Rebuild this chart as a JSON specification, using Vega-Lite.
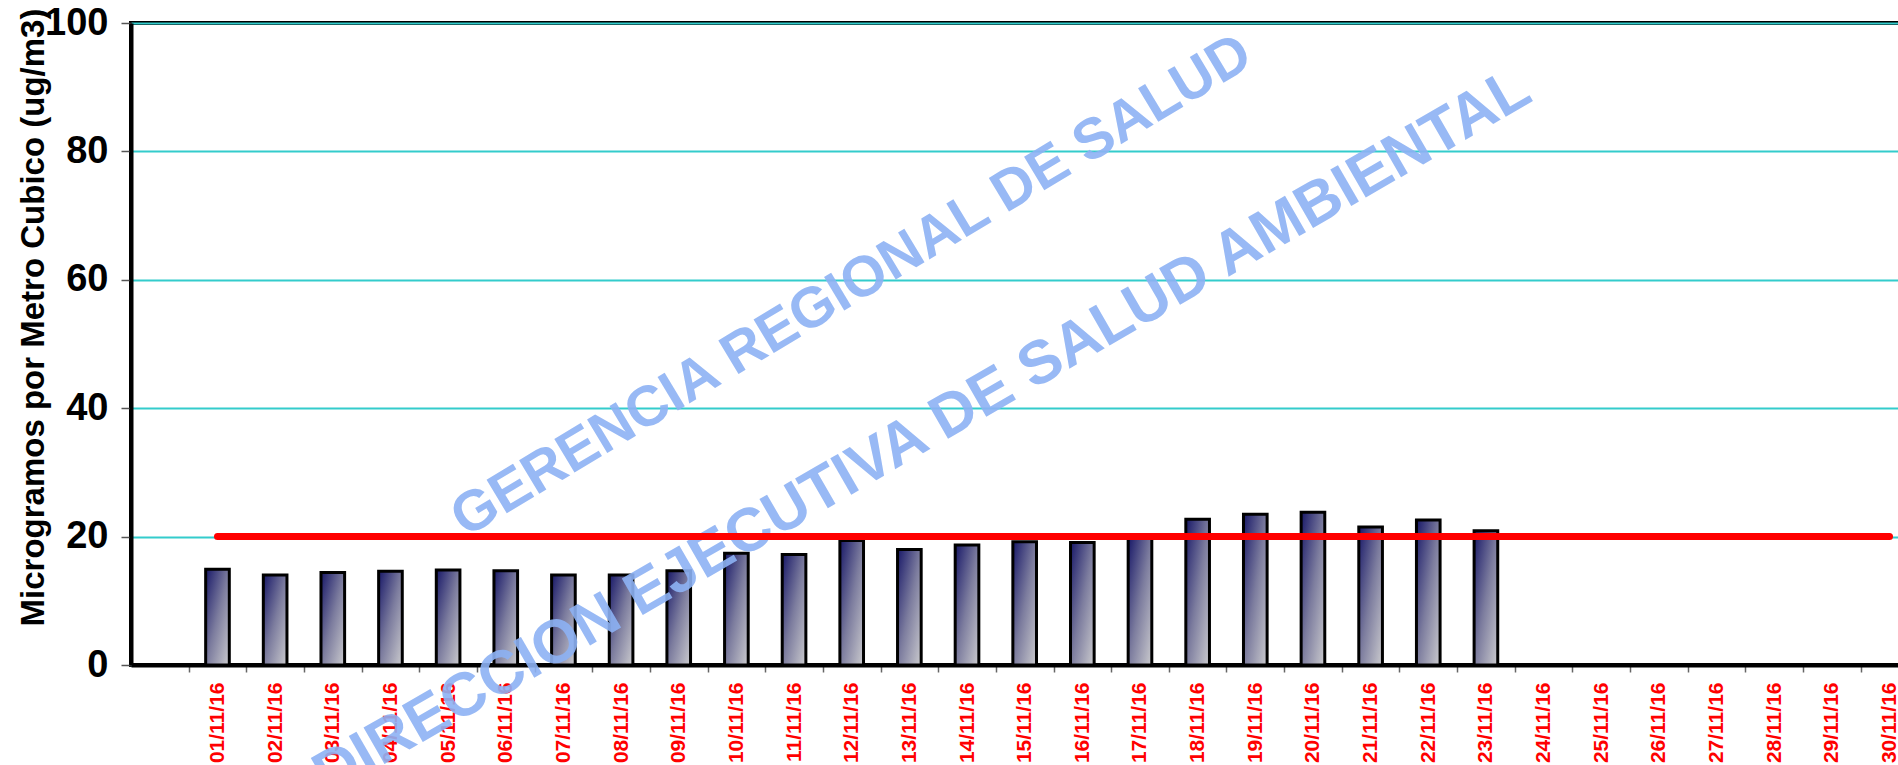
{
  "$schema": "https://vega.github.io/schema/vega-lite/v6.json",
  "width": 1845,
  "height": 642,
  "autosize": {"type": "none"},
  "padding": {"left": 131, "top": 23, "right": 0, "bottom": 100},
  "background": "white",
  "config": {
    "view": {"stroke": "black", "strokeWidth": 4},
    "font": "Liberation Sans"
  },
  "data": {
    "values": [
      {"fecha": "01/11/16", "pm": 14.9, "limite": 20},
      {"fecha": "02/11/16", "pm": 14.0, "limite": 20},
      {"fecha": "03/11/16", "pm": 14.4, "limite": 20},
      {"fecha": "04/11/16", "pm": 14.6, "limite": 20},
      {"fecha": "05/11/16", "pm": 14.8, "limite": 20},
      {"fecha": "06/11/16", "pm": 14.7, "limite": 20},
      {"fecha": "07/11/16", "pm": 14.0, "limite": 20},
      {"fecha": "08/11/16", "pm": 14.0, "limite": 20},
      {"fecha": "09/11/16", "pm": 14.7, "limite": 20},
      {"fecha": "10/11/16", "pm": 17.4, "limite": 20},
      {"fecha": "11/11/16", "pm": 17.2, "limite": 20},
      {"fecha": "12/11/16", "pm": 19.4, "limite": 20},
      {"fecha": "13/11/16", "pm": 18.0, "limite": 20},
      {"fecha": "14/11/16", "pm": 18.7, "limite": 20},
      {"fecha": "15/11/16", "pm": 19.2, "limite": 20},
      {"fecha": "16/11/16", "pm": 19.1, "limite": 20},
      {"fecha": "17/11/16", "pm": 19.8, "limite": 20},
      {"fecha": "18/11/16", "pm": 22.7, "limite": 20},
      {"fecha": "19/11/16", "pm": 23.5, "limite": 20},
      {"fecha": "20/11/16", "pm": 23.8, "limite": 20},
      {"fecha": "21/11/16", "pm": 21.5, "limite": 20},
      {"fecha": "22/11/16", "pm": 22.6, "limite": 20},
      {"fecha": "23/11/16", "pm": 20.9, "limite": 20},
      {"fecha": "24/11/16", "pm": null, "limite": 20},
      {"fecha": "25/11/16", "pm": null, "limite": 20},
      {"fecha": "26/11/16", "pm": null, "limite": 20},
      {"fecha": "27/11/16", "pm": null, "limite": 20},
      {"fecha": "28/11/16", "pm": null, "limite": 20},
      {"fecha": "29/11/16", "pm": null, "limite": 20},
      {"fecha": "30/11/16", "pm": null, "limite": 20}
    ]
  },
  "layer": [
    {
      "mark": {"type": "bar", "width": {"band": 0.41}, "stroke": "black", "strokeWidth": 3,
        "fill": {"gradient": "linear", "x1": 0, "y1": 0, "x2": 1, "y2": 1,
          "stops": [{"offset": 0, "color": "#181868"}, {"offset": 0.5, "color": "#7c7c9e"}, {"offset": 1, "color": "#cbcbce"}]}},
      "encoding": {
        "x": {"field": "fecha", "type": "ordinal", "sort": null,
          "scale": {"paddingInner": 0, "paddingOuter": 1},
          "axis": {"title": null, "labelAngle": -90, "labelColor": "#FF0000", "labelFontWeight": "bold",
            "labelFontSize": 21, "labelFont": "Liberation Sans", "labelPadding": 10,
            "tickBand": "extent", "tickSize": 7, "tickColor": "#666666", "tickWidth": 1.5,
            "domainColor": "black", "domainWidth": 4, "grid": false}},
        "y": {"field": "pm", "type": "quantitative",
          "scale": {"domain": [0, 100], "nice": false},
          "axis": {"title": "Microgramos por Metro Cubico (ug/m3)", "values": [0, 20, 40, 60, 80, 100],
            "grid": true, "gridColor": "#33CCCC", "gridWidth": 2,
            "tickSize": 10, "tickColor": "#555555", "tickWidth": 1.5,
            "labelFontSize": 38, "labelFontWeight": "bold", "labelColor": "black", "labelPadding": 13,
            "labelFont": "Liberation Sans",
            "domainColor": "black", "domainWidth": 4,
            "titleFontSize": 33, "titleFontWeight": "bold", "titleColor": "black", "titleFont": "Liberation Sans",
            "titleAngle": -90, "titleAlign": "center", "titleBaseline": "alphabetic",
            "titleX": -88, "titleY": 294}}
      }
    },
    {
      "data": {"values": [{"t": "GERENCIA REGIONAL DE SALUD"}]},
      "mark": {"type": "text", "angle": -31, "font": "Liberation Sans", "fontWeight": "bold",
        "fontSize": 57, "color": "#8DB2F4", "opacity": 0.9, "align": "center", "baseline": "middle"},
      "encoding": {
        "x": {"datum": "12/11/16", "type": "ordinal"},
        "y": {"datum": 59, "type": "quantitative"},
        "text": {"field": "t"}
      }
    },
    {
      "data": {"values": [{"t": "DIRECCION EJECUTIVA DE SALUD AMBIENTAL"}]},
      "mark": {"type": "text", "angle": -30, "font": "Liberation Sans", "fontWeight": "bold",
        "fontSize": 61, "color": "#8DB2F4", "opacity": 0.9, "align": "center", "baseline": "middle", "dx": 15},
      "encoding": {
        "x": {"datum": "13/11/16", "type": "ordinal"},
        "y": {"datum": 35, "type": "quantitative"},
        "text": {"field": "t"}
      }
    },
    {
      "mark": {"type": "line", "color": "#FF0000", "strokeWidth": 7, "strokeCap": "round"},
      "encoding": {
        "x": {"field": "fecha", "type": "ordinal", "sort": null},
        "y": {"field": "limite", "type": "quantitative"}
      }
    }
  ]
}
